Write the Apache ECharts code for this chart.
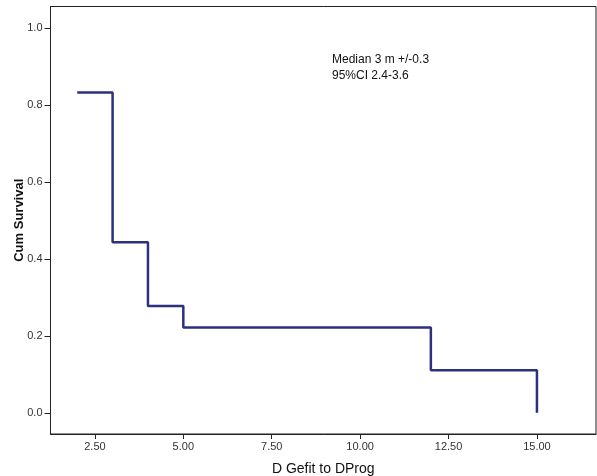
<!DOCTYPE html>
<html lang="en">
<head>
    <meta charset="UTF-8" />
    <title>Cum Survival</title>
    <script src="https://cdn.jsdelivr.net/npm/echarts@6/dist/echarts.min.js"></script>
    <style>
        html, body { margin: 0; padding: 0; background: #fff; }
        #chart { width: 597px; height: 476px; }
    </style>
</head>
<body>
    <div id="chart"></div>
    <script type="text/javascript">
        // survival steps
        const times = [2, 3, 4, 5, 12, 15];
        const survival = [0.833, 0.444, 0.278, 0.222, 0.111, 0.0];
        const xTicks = [2.5, 5, 7.5, 10, 12.5, 15];
        const yTicks = [0, 0.2, 0.4, 0.6, 0.8, 1.0];
        const noteLines = ['Median 3 m +/-0.3', '95%CI 2.4-3.6'];

        const font = 'Liberation Sans, Arial, sans-serif';
        let chart = echarts.init(document.getElementById('chart'), null, { renderer: 'canvas' });

        let option = {
            animation: false,
            backgroundColor: '#fff',
            grid: {
                left: 50.5, top: 6.5, right: 1, bottom: 42,
                outerBoundsMode: 'none',
                containLabel: false,
                show: true, borderColor: '#222', borderWidth: 1
            },
            xAxis: {
                type: 'value',
                min: 1.244, max: 16.67,
                name: 'D Gefit to DProg',
                nameLocation: 'middle',
                nameGap: 28,
                nameTextStyle: { fontFamily: font, fontSize: 14, color: '#111' },
                axisLine: { show: true, onZero: false, lineStyle: { color: '#222', width: 1 } },
                axisTick: { show: true, length: 5, customValues: xTicks, lineStyle: { color: '#222' } },
                axisLabel: {
                    customValues: xTicks, margin: 7,
                    fontFamily: font, fontSize: 11, color: '#333',
                    formatter: v => v.toFixed(2)
                },
                splitLine: { show: false }
            },
            yAxis: {
                type: 'value',
                min: -0.055, max: 1.057,
                name: 'Cum Survival',
                nameLocation: 'middle',
                nameGap: 25,
                nameMoveOverlap: false,
                nameTextStyle: { fontFamily: font, fontSize: 13, fontWeight: 'bold', color: '#111' },
                axisLine: { show: true, onZero: false, lineStyle: { color: '#222', width: 1 } },
                axisTick: { show: true, length: 6, customValues: yTicks, lineStyle: { color: '#222' } },
                axisLabel: {
                    customValues: yTicks, margin: 8,
                    fontFamily: font, fontSize: 11, color: '#333',
                    formatter: v => v.toFixed(1)
                },
                splitLine: { show: false }
            },
            series: [{
                type: 'line',
                step: 'end',
                data: times.map((t, i) => [t, survival[i]]),
                showSymbol: false,
                lineStyle: { color: '#2d2f7f', width: 2.5 }
            }],
            graphic: [{
                type: 'text',
                left: 332, top: 52,
                style: {
                    text: noteLines.join('\n'),
                    font: '12px ' + font,
                    fill: '#111',
                    lineHeight: 16
                }
            }]
        };
        chart.setOption(option);
    </script>
</body>
</html>
